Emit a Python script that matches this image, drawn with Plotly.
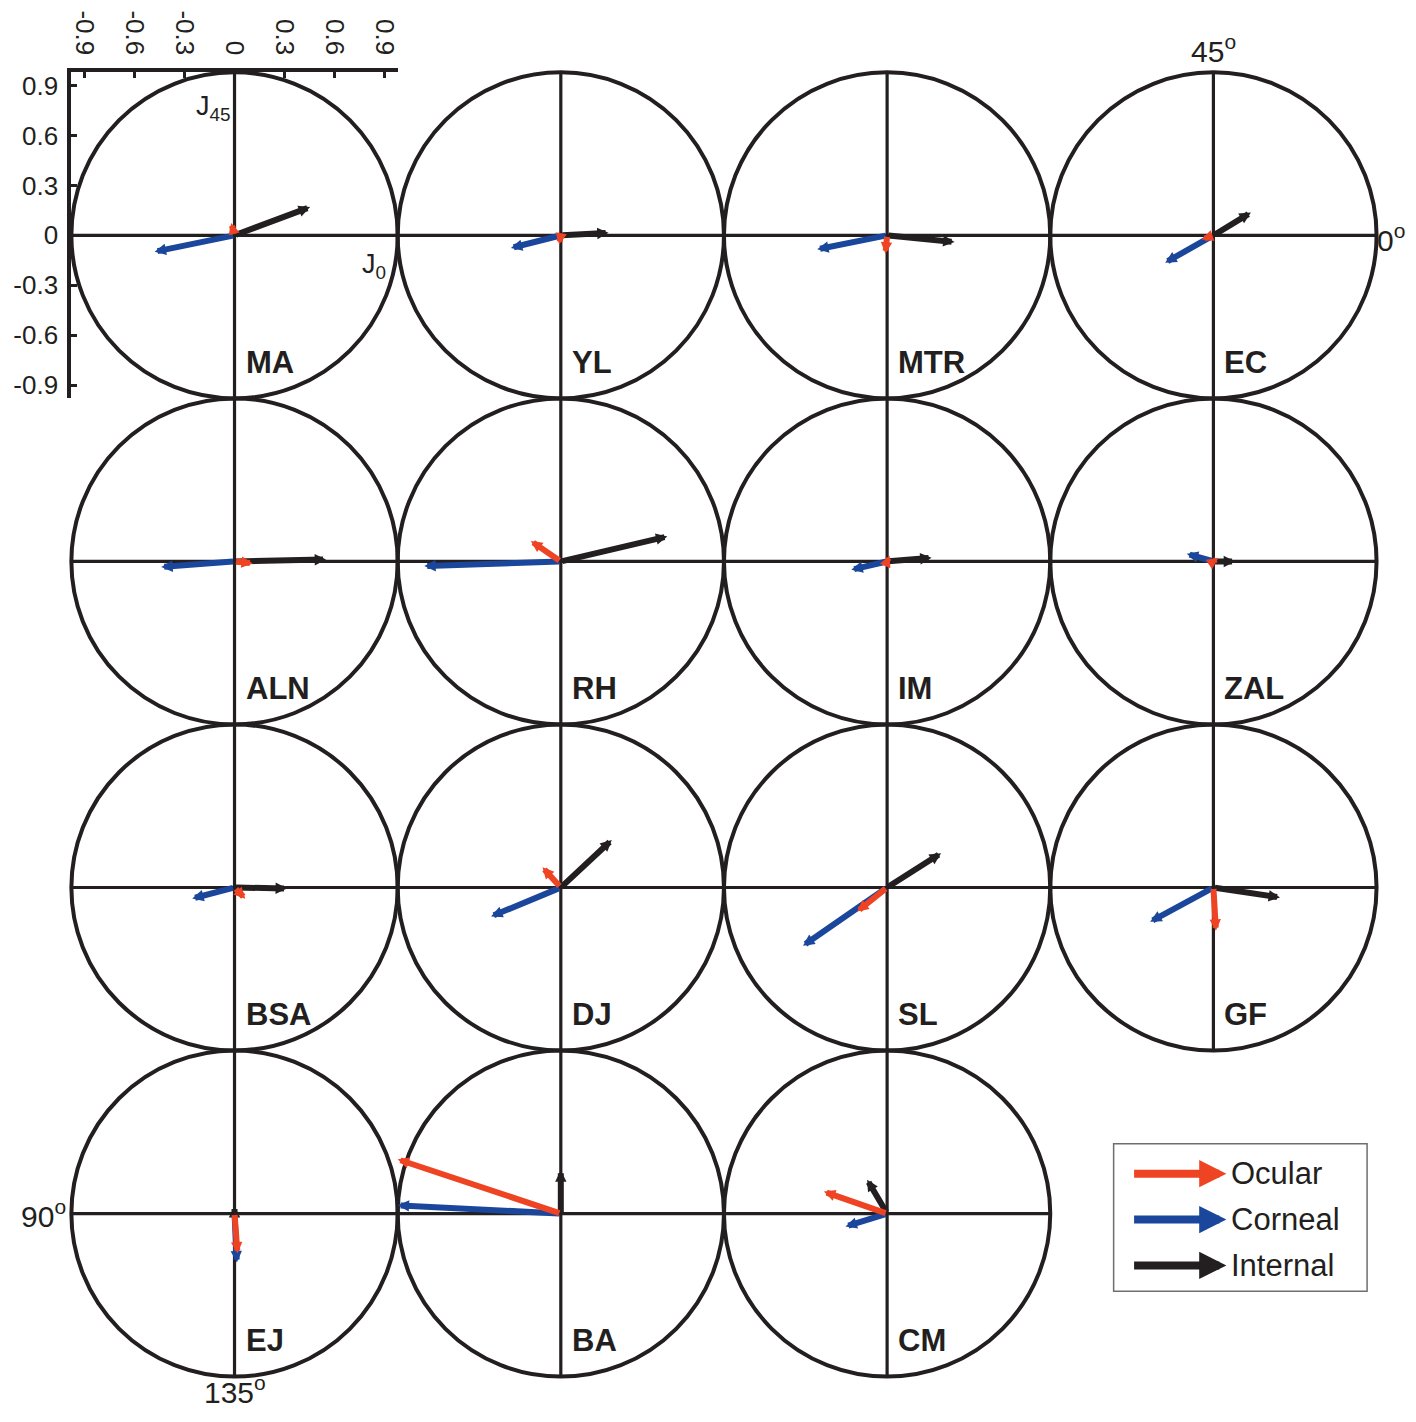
import plotly.graph_objects as go

# ---------------- data (J0, J45 components, dioptres) ----------------
subjects = ["MA", "YL", "MTR", "EC", "ALN", "RH", "IM", "ZAL",
            "BSA", "DJ", "SL", "GF", "EJ", "BA", "CM"]
ocular_j0    = [-0.02, -0.01, -0.01, -0.07, 0.11, -0.18, 0.015, 0.03,
                0.065, -0.11, -0.18, 0.015, 0.018, -0.98, -0.38]
ocular_j45   = [0.075, -0.055, -0.11, -0.025, -0.012, 0.123, 0.035, 0.02,
                -0.068, 0.122, -0.145, -0.26, -0.24, 0.326, 0.132]
corneal_j0   = [-0.48, -0.30, -0.42, -0.29, -0.44, -0.82, -0.215, -0.16,
                -0.254, -0.419, -0.505, -0.38, 0.014, -0.98, -0.25]
corneal_j45  = [-0.098, -0.076, -0.084, -0.164, -0.034, -0.028, -0.05, 0.046,
                -0.066, -0.174, -0.35, -0.206, -0.294, 0.05, -0.078]
internal_j0  = [0.454, 0.287, 0.405, 0.225, 0.55, 0.64, 0.267, 0.13,
                0.315, 0.306, 0.324, 0.40, 0.0, 0.0, -0.12]
internal_j45 = [0.170, 0.015, -0.04, 0.137, 0.012, 0.15, 0.022, 0.0,
                -0.006, 0.286, 0.206, -0.06, 0.045, 0.26, 0.204]

components = ["Ocular", "Corneal", "Internal"]
tick_vals = [-0.9, -0.6, -0.3, 0, 0.3, 0.6, 0.9]
tick_text = ["-0.9", "-0.6", "-0.3", "0", "0.3", "0.6", "0.9"]
angle_labels = ["0", "45", "90", "135"]

# ---------------- styling / layout constants ----------------
colors = {"Ocular": "#EE4424", "Corneal": "#1A469B", "Internal": "#231F20"}
INK = "#231F20"
FONT = "Liberation Sans, Arial, Helvetica, sans-serif"
W, H = 1400, 1406          # figure size (page has 8px body margin)
OFF = 8
R = 0.98                   # circle radius (data units)
STEP = 1.96                # distance between circle centres
PX = 327 / STEP            # pixels per data unit
C0 = 234 - OFF             # pixel position of the first centre in the figure
NCOL = 4


def X(px):   # window pixel -> data x
    return (px - OFF - C0) / PX


def Y(py):   # window pixel -> data y
    return (C0 - (py - OFF)) / PX


def centre(k):
    return (k % NCOL) * STEP, -(k // NCOL) * STEP


fig = go.Figure()
fig.add_trace(go.Scatter(x=[None], y=[None], xaxis="x2", yaxis="y2",
                         showlegend=False, hoverinfo="skip"))

shapes = []
annotations = []

# circles and crosshairs
for k in range(len(subjects)):
    cx, cy = centre(k)
    shapes.append(dict(type="circle", xref="x", yref="y",
                       x0=cx - R, x1=cx + R, y0=cy - R, y1=cy + R,
                       line=dict(color=INK, width=4)))
    shapes.append(dict(type="line", xref="x", yref="y",
                       x0=cx - R, x1=cx + R, y0=cy, y1=cy,
                       line=dict(color=INK, width=3.2)))
    shapes.append(dict(type="line", xref="x", yref="y",
                       x0=cx, x1=cx, y0=cy - R, y1=cy + R,
                       line=dict(color=INK, width=3.2)))

# vectors (internal, corneal, ocular drawn in that order)
series = {
    "Ocular": (ocular_j0, ocular_j45),
    "Corneal": (corneal_j0, corneal_j45),
    "Internal": (internal_j0, internal_j45),
}
for k, name in enumerate(subjects):
    cx, cy = centre(k)
    for comp in ["Internal", "Corneal", "Ocular"]:
        j0, j45 = series[comp]
        annotations.append(dict(
            x=cx + j0[k], y=cy + j45[k], ax=cx, ay=cy,
            xref="x", yref="y", axref="x", ayref="y",
            text="", showarrow=True, arrowhead=2, arrowsize=0.38,
            arrowwidth=6, arrowcolor=colors[comp]))
    annotations.append(dict(
        x=cx + 9 / PX, y=cy - 127 / PX, xref="x", yref="y",
        text="<b>" + name + "</b>", showarrow=False,
        xanchor="left", yanchor="middle",
        font=dict(family=FONT, size=31, color=INK)))

# axis name labels in the first panel
annotations.append(dict(x=X(232), y=Y(106), xref="x", yref="y",
                        text="J<sub>45</sub>", showarrow=False,
                        xanchor="right", yanchor="middle",
                        font=dict(family=FONT, size=27, color=INK)))
annotations.append(dict(x=X(388), y=Y(265), xref="x", yref="y",
                        text="J<sub>0</sub>", showarrow=False,
                        xanchor="right", yanchor="middle",
                        font=dict(family=FONT, size=27, color=INK)))

# angle labels
afont = dict(family=FONT, size=30, color=INK)
annotations.append(dict(x=X(1377), y=Y(237), xref="x", yref="y",
                        text=angle_labels[0] + "<sup>o</sup>", showarrow=False,
                        xanchor="left", yanchor="middle", font=afont))
annotations.append(dict(x=X(1215), y=Y(47), xref="x", yref="y",
                        text=angle_labels[1] + "<sup>o</sup>", showarrow=False,
                        xanchor="center", yanchor="middle", font=afont))
annotations.append(dict(x=X(67), y=Y(1215), xref="x", yref="y",
                        text=angle_labels[2] + "<sup>o</sup>", showarrow=False,
                        xanchor="right", yanchor="middle", font=afont))
annotations.append(dict(x=X(234), y=Y(1413), xref="x", yref="y",
                        text=angle_labels[3] + "<sup>o</sup>", showarrow=False,
                        xanchor="center", yanchor="bottom", font=afont))

# legend
shapes.append(dict(type="rect", xref="x", yref="y",
                   x0=X(1115), x1=X(1369), y0=Y(1145), y1=Y(1293),
                   line=dict(color="#6E6E6E", width=1.5)))
for i, comp in enumerate(components):
    ly = Y(1175 + 46 * i)
    annotations.append(dict(x=X(1228), y=ly, ax=X(1134), ay=ly,
                            xref="x", yref="y", axref="x", ayref="y",
                            text="", showarrow=True, arrowhead=2,
                            arrowsize=0.68, arrowwidth=8,
                            arrowcolor=colors[comp]))
    annotations.append(dict(x=X(1231), y=ly, xref="x", yref="y",
                            text=comp, showarrow=False,
                            xanchor="left", yanchor="middle",
                            font=dict(family=FONT, size=31, color=INK)))

# domain of the first panel (for the tick axes)
dx0 = (C0 - R * PX) / W
dx1 = (C0 + R * PX) / W
dy1 = 1 - (C0 - R * PX) / H
dy0 = 1 - (C0 + R * PX) / H

tfont = dict(family=FONT, size=26, color=INK)
fig.update_layout(
    width=W, height=H,
    margin=dict(l=0, r=0, t=0, b=0),
    paper_bgcolor="white", plot_bgcolor="rgba(0,0,0,0)",
    showlegend=False,
    xaxis=dict(range=[-C0 / PX, (W - C0) / PX], visible=False,
               domain=[0, 1], fixedrange=True),
    yaxis=dict(range=[-(H - C0) / PX, C0 / PX], visible=False,
               domain=[0, 1], fixedrange=True),
    xaxis2=dict(domain=[dx0, dx1], anchor="y2", side="top",
                range=[-R, R], tickvals=tick_vals, ticktext=tick_text,
                tickangle=90, ticks="inside", ticklen=6, tickwidth=3,
                tickcolor=INK, showline=True, linewidth=4, linecolor=INK,
                showgrid=False, zeroline=False, tickfont=tfont,
                ticklabelstandoff=4, fixedrange=True),
    yaxis2=dict(domain=[dy0, dy1], anchor="x2", side="left",
                range=[-R, R], tickvals=tick_vals, ticktext=tick_text,
                ticks="inside", ticklen=6, tickwidth=3, tickcolor=INK,
                showline=True, linewidth=4, linecolor=INK,
                showgrid=False, zeroline=False, tickfont=tfont,
                ticklabelstandoff=4, fixedrange=True),
    shapes=shapes,
    annotations=annotations,
)

fig.write_html("out.html")
